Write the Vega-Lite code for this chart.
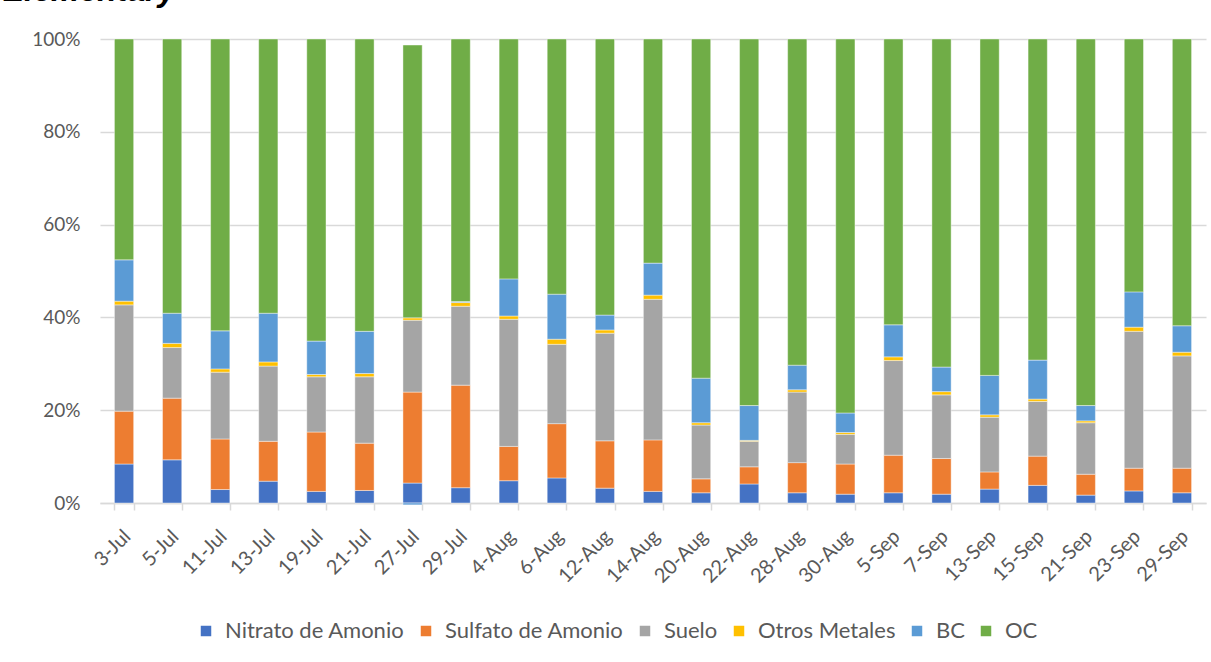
{
  "$schema": "https://vega.github.io/schema/vega-lite/v6.json",
  "autosize": {"type": "none"},
  "width": 1106,
  "height": 464,
  "padding": {"left": 100, "top": 39, "right": 5, "bottom": 159},
  "background": "white",
  "title": {
    "text": "Elementary",
    "anchor": "start",
    "frame": "group",
    "dx": -97,
    "offset": 22,
    "font": "Liberation Sans",
    "fontSize": 32,
    "fontWeight": "bold",
    "fontStyle": "italic",
    "color": "#000000"
  },
  "data": {
    "values": [
      {"d":"3-Jul","c":"Nitrato de Amonio","v":8.4},{"d":"3-Jul","c":"Sulfato de Amonio","v":11.4},{"d":"3-Jul","c":"Suelo","v":22.9},{"d":"3-Jul","c":"Otros Metales","v":0.8},{"d":"3-Jul","c":"BC","v":8.9},{"d":"3-Jul","c":"OC","v":47.6},
      {"d":"5-Jul","c":"Nitrato de Amonio","v":9.3},{"d":"5-Jul","c":"Sulfato de Amonio","v":13.3},{"d":"5-Jul","c":"Suelo","v":10.9},{"d":"5-Jul","c":"Otros Metales","v":0.9},{"d":"5-Jul","c":"BC","v":6.5},{"d":"5-Jul","c":"OC","v":59.1},
      {"d":"11-Jul","c":"Nitrato de Amonio","v":2.9},{"d":"11-Jul","c":"Sulfato de Amonio","v":10.9},{"d":"11-Jul","c":"Suelo","v":14.4},{"d":"11-Jul","c":"Otros Metales","v":0.7},{"d":"11-Jul","c":"BC","v":8.2},{"d":"11-Jul","c":"OC","v":62.9},
      {"d":"13-Jul","c":"Nitrato de Amonio","v":4.7},{"d":"13-Jul","c":"Sulfato de Amonio","v":8.6},{"d":"13-Jul","c":"Suelo","v":16.2},{"d":"13-Jul","c":"Otros Metales","v":0.9},{"d":"13-Jul","c":"BC","v":10.5},{"d":"13-Jul","c":"OC","v":59.1},
      {"d":"19-Jul","c":"Nitrato de Amonio","v":2.5},{"d":"19-Jul","c":"Sulfato de Amonio","v":12.8},{"d":"19-Jul","c":"Suelo","v":11.9},{"d":"19-Jul","c":"Otros Metales","v":0.5},{"d":"19-Jul","c":"BC","v":7.2},{"d":"19-Jul","c":"OC","v":65.1},
      {"d":"21-Jul","c":"Nitrato de Amonio","v":2.7},{"d":"21-Jul","c":"Sulfato de Amonio","v":10.2},{"d":"21-Jul","c":"Suelo","v":14.3},{"d":"21-Jul","c":"Otros Metales","v":0.7},{"d":"21-Jul","c":"BC","v":9.1},{"d":"21-Jul","c":"OC","v":63.0},
      {"d":"27-Jul","c":"Nitrato de Amonio","v":4.3},{"d":"27-Jul","c":"Sulfato de Amonio","v":19.6},{"d":"27-Jul","c":"Suelo","v":15.5},{"d":"27-Jul","c":"Otros Metales","v":0.5},{"d":"27-Jul","c":"BC","v":-0.4},{"d":"27-Jul","c":"OC","v":58.8},
      {"d":"29-Jul","c":"Nitrato de Amonio","v":3.3},{"d":"29-Jul","c":"Sulfato de Amonio","v":22.1},{"d":"29-Jul","c":"Suelo","v":17.0},{"d":"29-Jul","c":"Otros Metales","v":0.8},{"d":"29-Jul","c":"BC","v":0.2},{"d":"29-Jul","c":"OC","v":56.6},
      {"d":"4-Aug","c":"Nitrato de Amonio","v":4.8},{"d":"4-Aug","c":"Sulfato de Amonio","v":7.4},{"d":"4-Aug","c":"Suelo","v":27.4},{"d":"4-Aug","c":"Otros Metales","v":0.7},{"d":"4-Aug","c":"BC","v":8.0},{"d":"4-Aug","c":"OC","v":51.7},
      {"d":"6-Aug","c":"Nitrato de Amonio","v":5.4},{"d":"6-Aug","c":"Sulfato de Amonio","v":11.7},{"d":"6-Aug","c":"Suelo","v":17.1},{"d":"6-Aug","c":"Otros Metales","v":1.1},{"d":"6-Aug","c":"BC","v":9.7},{"d":"6-Aug","c":"OC","v":55.0},
      {"d":"12-Aug","c":"Nitrato de Amonio","v":3.2},{"d":"12-Aug","c":"Sulfato de Amonio","v":10.2},{"d":"12-Aug","c":"Suelo","v":23.2},{"d":"12-Aug","c":"Otros Metales","v":0.7},{"d":"12-Aug","c":"BC","v":3.2},{"d":"12-Aug","c":"OC","v":59.5},
      {"d":"14-Aug","c":"Nitrato de Amonio","v":2.5},{"d":"14-Aug","c":"Sulfato de Amonio","v":11.1},{"d":"14-Aug","c":"Suelo","v":30.3},{"d":"14-Aug","c":"Otros Metales","v":0.9},{"d":"14-Aug","c":"BC","v":6.9},{"d":"14-Aug","c":"OC","v":48.3},
      {"d":"20-Aug","c":"Nitrato de Amonio","v":2.2},{"d":"20-Aug","c":"Sulfato de Amonio","v":3.0},{"d":"20-Aug","c":"Suelo","v":11.6},{"d":"20-Aug","c":"Otros Metales","v":0.5},{"d":"20-Aug","c":"BC","v":9.6},{"d":"20-Aug","c":"OC","v":73.1},
      {"d":"22-Aug","c":"Nitrato de Amonio","v":4.1},{"d":"22-Aug","c":"Sulfato de Amonio","v":3.7},{"d":"22-Aug","c":"Suelo","v":5.5},{"d":"22-Aug","c":"Otros Metales","v":0.2},{"d":"22-Aug","c":"BC","v":7.5},{"d":"22-Aug","c":"OC","v":79.0},
      {"d":"28-Aug","c":"Nitrato de Amonio","v":2.2},{"d":"28-Aug","c":"Sulfato de Amonio","v":6.5},{"d":"28-Aug","c":"Suelo","v":15.2},{"d":"28-Aug","c":"Otros Metales","v":0.5},{"d":"28-Aug","c":"BC","v":5.3},{"d":"28-Aug","c":"OC","v":70.3},
      {"d":"30-Aug","c":"Nitrato de Amonio","v":1.9},{"d":"30-Aug","c":"Sulfato de Amonio","v":6.5},{"d":"30-Aug","c":"Suelo","v":6.4},{"d":"30-Aug","c":"Otros Metales","v":0.4},{"d":"30-Aug","c":"BC","v":4.2},{"d":"30-Aug","c":"OC","v":80.6},
      {"d":"5-Sep","c":"Nitrato de Amonio","v":2.2},{"d":"5-Sep","c":"Sulfato de Amonio","v":8.1},{"d":"5-Sep","c":"Suelo","v":20.4},{"d":"5-Sep","c":"Otros Metales","v":0.8},{"d":"5-Sep","c":"BC","v":6.9},{"d":"5-Sep","c":"OC","v":61.6},
      {"d":"7-Sep","c":"Nitrato de Amonio","v":1.9},{"d":"7-Sep","c":"Sulfato de Amonio","v":7.7},{"d":"7-Sep","c":"Suelo","v":13.7},{"d":"7-Sep","c":"Otros Metales","v":0.7},{"d":"7-Sep","c":"BC","v":5.3},{"d":"7-Sep","c":"OC","v":70.7},
      {"d":"13-Sep","c":"Nitrato de Amonio","v":3.0},{"d":"13-Sep","c":"Sulfato de Amonio","v":3.7},{"d":"13-Sep","c":"Suelo","v":11.8},{"d":"13-Sep","c":"Otros Metales","v":0.5},{"d":"13-Sep","c":"BC","v":8.5},{"d":"13-Sep","c":"OC","v":72.5},
      {"d":"15-Sep","c":"Nitrato de Amonio","v":3.8},{"d":"15-Sep","c":"Sulfato de Amonio","v":6.3},{"d":"15-Sep","c":"Suelo","v":11.8},{"d":"15-Sep","c":"Otros Metales","v":0.5},{"d":"15-Sep","c":"BC","v":8.4},{"d":"15-Sep","c":"OC","v":69.2},
      {"d":"21-Sep","c":"Nitrato de Amonio","v":1.7},{"d":"21-Sep","c":"Sulfato de Amonio","v":4.5},{"d":"21-Sep","c":"Suelo","v":11.1},{"d":"21-Sep","c":"Otros Metales","v":0.4},{"d":"21-Sep","c":"BC","v":3.3},{"d":"21-Sep","c":"OC","v":79.0},
      {"d":"23-Sep","c":"Nitrato de Amonio","v":2.6},{"d":"23-Sep","c":"Sulfato de Amonio","v":4.9},{"d":"23-Sep","c":"Suelo","v":29.5},{"d":"23-Sep","c":"Otros Metales","v":0.9},{"d":"23-Sep","c":"BC","v":7.6},{"d":"23-Sep","c":"OC","v":54.5},
      {"d":"29-Sep","c":"Nitrato de Amonio","v":2.2},{"d":"29-Sep","c":"Sulfato de Amonio","v":5.3},{"d":"29-Sep","c":"Suelo","v":24.2},{"d":"29-Sep","c":"Otros Metales","v":0.8},{"d":"29-Sep","c":"BC","v":5.7},{"d":"29-Sep","c":"OC","v":61.8}
    ]
  },
  "transform": [
    {"window": [{"op": "row_number", "as": "o"}], "groupby": ["d"]}
  ],
  "mark": {"type": "bar", "stroke": "#ffffff", "strokeWidth": 0.6, "strokeOpacity": 0.7},
  "encoding": {
    "x": {
      "field": "d",
      "type": "nominal",
      "sort": null,
      "scale": {"paddingInner": 0.6, "paddingOuter": 0.3},
      "axis": {
        "title": null,
        "labelAngle": -45,
        "labelFont": "Lato",
        "labelFontSize": 20,
        "labelColor": "#595959",
        "labelPadding": 16,
        "labelOffset": -4,
        "domainColor": "#d9d9d9",
        "domainWidth": 1.5,
        "tickColor": "#d9d9d9",
        "tickWidth": 1.5,
        "tickSize": 7,
        "tickBand": "extent",
        "grid": false
      }
    },
    "y": {
      "field": "v",
      "type": "quantitative",
      "stack": "zero",
      "scale": {"domain": [0, 100], "nice": false},
      "axis": {
        "title": null,
        "values": [0, 20, 40, 60, 80, 100],
        "labelExpr": "datum.value + '%'",
        "labelFont": "Lato",
        "labelFontSize": 19,
        "labelColor": "#595959",
        "labelPadding": 20,
        "domain": false,
        "ticks": false,
        "grid": true,
        "gridColor": "#d9d9d9",
        "gridWidth": 1.5
      }
    },
    "color": {
      "field": "c",
      "type": "nominal",
      "sort": ["Nitrato de Amonio", "Sulfato de Amonio", "Suelo", "Otros Metales", "BC", "OC"],
      "scale": {
        "domain": ["Nitrato de Amonio", "Sulfato de Amonio", "Suelo", "Otros Metales", "BC", "OC"],
        "range": ["#4472C4", "#ED7D31", "#A5A5A5", "#FFC000", "#5B9BD5", "#70AD47"]
      },
      "legend": {
        "title": null,
        "orient": "none",
        "direction": "horizontal",
        "legendX": 95,
        "legendY": 581,
        "symbolType": "square",
        "symbolSize": 110,
        "symbolStrokeWidth": 0,
        "labelFont": "Lato",
        "labelFontSize": 22,
        "labelColor": "#595959",
        "labelLimit": 400,
        "labelOffset": 8,
        "columnPadding": 10
      }
    },
    "order": {"field": "o", "type": "quantitative"}
  },
  "config": {"view": {"stroke": null}}
}
